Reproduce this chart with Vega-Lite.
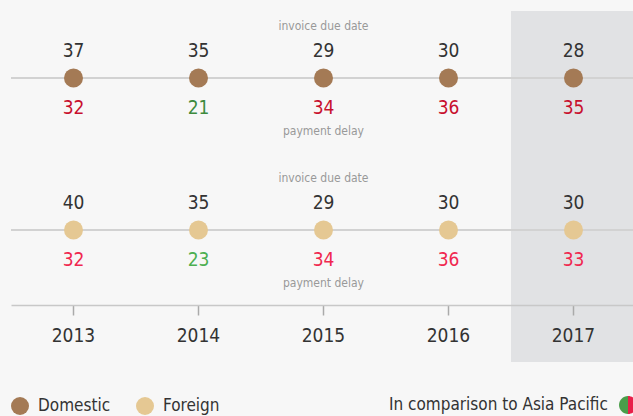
{
  "$schema": "https://vega.github.io/schema/vega-lite/v6.json",
  "width": 622,
  "height": 351,
  "autosize": {"type": "none"},
  "padding": {"left": 11, "top": 11, "right": 0, "bottom": 54},
  "background": "#f7f7f7",
  "config": {"font": "DejaVu Sans Condensed, Roboto, sans-serif", "view": {"stroke": null}},
  "data": {"values": [
    {"year": "2013", "type": "Domestic", "due": 37, "delay": 32, "cmp": "worse"},
    {"year": "2014", "type": "Domestic", "due": 35, "delay": 21, "cmp": "better"},
    {"year": "2015", "type": "Domestic", "due": 29, "delay": 34, "cmp": "worse"},
    {"year": "2016", "type": "Domestic", "due": 30, "delay": 36, "cmp": "worse"},
    {"year": "2017", "type": "Domestic", "due": 28, "delay": 35, "cmp": "worse"},
    {"year": "2013", "type": "Foreign", "due": 40, "delay": 32, "cmp": "worse"},
    {"year": "2014", "type": "Foreign", "due": 35, "delay": 23, "cmp": "better"},
    {"year": "2015", "type": "Foreign", "due": 29, "delay": 34, "cmp": "worse"},
    {"year": "2016", "type": "Foreign", "due": 30, "delay": 36, "cmp": "worse"},
    {"year": "2017", "type": "Foreign", "due": 30, "delay": 33, "cmp": "worse"}
  ]},
  "encoding": {
    "x": {"field": "year", "type": "ordinal",
      "scale": {"range": [0, 625], "paddingInner": 0, "paddingOuter": 0},
      "axis": {"title": null, "orient": "bottom", "offset": -57, "domainColor": "#c8c8c8", "domainWidth": 1.5,
        "tickColor": "#aaaaaa", "tickSize": 10, "tickWidth": 1.5, "labelFontSize": 19, "labelColor": "#333333",
        "labelPadding": 11, "labelAngle": 0, "grid": false}}
  },
  "layer": [
    {
      "transform": [{"filter": "datum.year === '2017' && datum.type === 'Domestic'"}],
      "mark": {"type": "rect", "color": "#e1e2e4"},
      "encoding": {}
    },
    {
      "transform": [{"filter": "datum.year === '2013'"}],
      "mark": {"type": "rule", "color": "#d2d2d2", "strokeWidth": 2},
      "encoding": {"x": null,
        "y": {"field": "type", "type": "nominal", "scale": {"type": "point", "domain": ["Domestic", "Foreign"], "range": [67, 219], "padding": 0}, "axis": null}}
    },
    {
      "mark": {"type": "point", "filled": true, "opacity": 0},
      "encoding": {
        "y": {"field": "type", "type": "nominal", "axis": null},
        "fill": {"field": "cmp", "type": "nominal",
          "scale": {"domain": ["better", "worse"], "range": ["#4a9e4a", "#e8204a"]},
          "legend": {"orient": "none", "legendX": 378, "legendY": 385, "title": "In comparison to Asia Pacific", "titleOrient": "left",
            "titleFontSize": 17, "titleFontWeight": "normal", "titleColor": "#333333", "titlePadding": 2, "titleBaseline": "middle", "titleLimit": 500,
            "direction": "horizontal", "columns": 2, "columnPadding": 0, "labelExpr": "''", "labelOffset": 0,
            "symbolSize": 324, "symbolOpacity": 1, "symbolStrokeWidth": 0}},
        "shape": {"field": "cmp", "type": "nominal",
          "scale": {"domain": ["better", "worse"], "range": ["M1,-1A1,1,0,0,0,1,1Z", "M-1,-1A1,1,0,0,1,-1,1Z"]},
          "legend": {"orient": "none", "legendX": 378, "legendY": 385, "title": "In comparison to Asia Pacific", "titleOrient": "left",
            "titleFontSize": 17, "titleFontWeight": "normal", "titleColor": "#333333", "titlePadding": 2, "titleBaseline": "middle", "titleLimit": 500,
            "direction": "horizontal", "columns": 2, "columnPadding": 0, "labelExpr": "''", "labelOffset": 0,
            "symbolSize": 324, "symbolOpacity": 1, "symbolStrokeWidth": 0}}
      }
    },
    {
      "mark": {"type": "point", "filled": true, "opacity": 1, "size": 360},
      "encoding": {
        "y": {"field": "type", "type": "nominal", "axis": null},
        "color": {"field": "type", "type": "nominal",
          "scale": {"domain": ["Domestic", "Foreign"], "range": ["#a47a55", "#e5c893"]},
          "legend": {"orient": "none", "legendX": 0, "legendY": 386, "title": null, "direction": "horizontal",
            "labelFontSize": 17, "labelColor": "#333333", "labelOffset": 9, "columnPadding": 25,
            "symbolSize": 324, "symbolType": "circle", "symbolStrokeWidth": 0}}
      }
    },
    {
      "mark": {"type": "text", "dy": -27, "fontSize": 19, "color": "#333333"},
      "encoding": {
        "y": {"field": "type", "type": "nominal", "axis": null},
        "text": {"field": "due", "type": "quantitative"}
      }
    },
    {
      "mark": {"type": "text", "dy": 30, "fontSize": 19},
      "encoding": {
        "y": {"field": "type", "type": "nominal", "axis": null},
        "text": {"field": "delay", "type": "quantitative"},
        "color": {"condition": [
          {"test": "datum.type === 'Domestic' && datum.cmp === 'worse'", "value": "#c8102e"},
          {"test": "datum.type === 'Domestic' && datum.cmp === 'better'", "value": "#3d8a3d"},
          {"test": "datum.type === 'Foreign' && datum.cmp === 'worse'", "value": "#f0284f"}
        ], "value": "#4caf50"}
      }
    },
    {
      "transform": [{"filter": "datum.year === '2015'"}],
      "mark": {"type": "text", "dy": -52, "fontSize": 12, "color": "#999999", "text": "invoice due date"},
      "encoding": {"y": {"field": "type", "type": "nominal", "axis": null}}
    },
    {
      "transform": [{"filter": "datum.year === '2015'"}],
      "mark": {"type": "text", "dy": 53, "fontSize": 12, "color": "#999999", "text": "payment delay"},
      "encoding": {"y": {"field": "type", "type": "nominal", "axis": null}}
    }
  ]
}
